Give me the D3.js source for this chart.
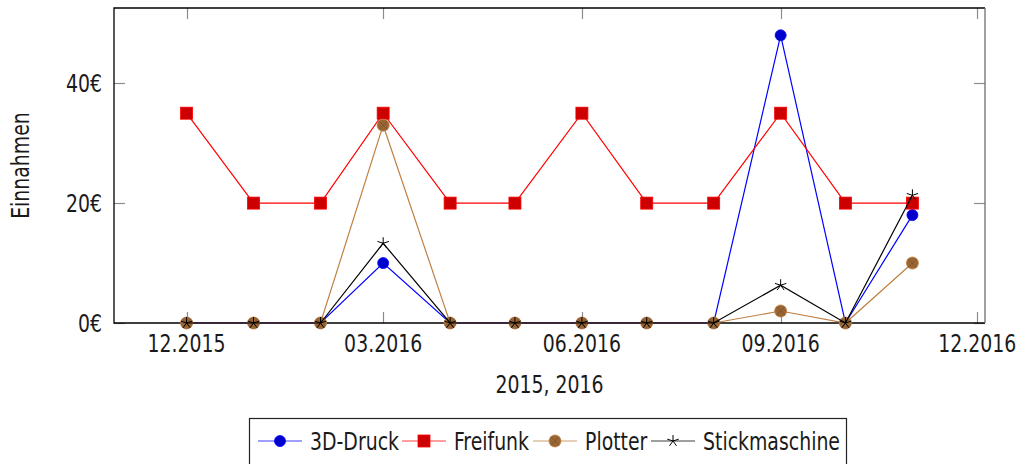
<!DOCTYPE html>
<html>
<head>
<meta charset="utf-8">
<script src="https://cdn.jsdelivr.net/npm/d3@7"></script>
<style>
  body { margin: 0; background: #fff; }
  svg text { font-family: "DejaVu Sans", sans-serif; font-stretch: condensed; fill: #1a1a1a; }
</style>
</head>
<body>
<div id="chart"></div>
<script>
"use strict"

/* DATA
 */
const months = ["2015-12", "2016-01", "2016-02", "2016-03", "2016-04", "2016-05",
                "2016-06", "2016-07", "2016-08", "2016-09", "2016-10", "2016-11"];
const druck3d = [0, 0, 0, 10, 0, 0, 0, 0, 0, 48, 0, 18];
const freifunk = [35, 20, 20, 35, 20, 20, 35, 20, 20, 35, 20, 20];
const plotter = [0, 0, 0, 33, 0, 0, 0, 0, 0, 2, 0, 10];
const stickmaschine = [0, 0, 0, 13.3, 0, 0, 0, 0, 0, 6.3, 0, 21.3];
const xTickMonths = ["2015-12", "2016-03", "2016-06", "2016-09", "2016-12"];
const yTicks = [0, 20, 40];
const xLabel = "2015, 2016";
const yLabel = "Einnahmen";

const parseMonth = d3.utcParse("%Y-%m");

const series = [
    {name: "3D-Druck", values: druck3d, line: "#0000ff", fill: "#0000cc", mark: "circle"},
    {name: "Freifunk", values: freifunk, line: "#ff0000", fill: "#cc0000", mark: "square"},
    {name: "Plotter", values: plotter, line: "#bf8040", fill: "#996633", mark: "otimes"},
    {name: "Stickmaschine", values: stickmaschine, line: "#000000", fill: "none", mark: "star"}
];

/* CHART
 */
const W = 1020, H = 464;
const box = {left: 114, right: 985, top: 8, bottom: 323};
const FONT = 25;
const SQUEEZE = 0.84;   // narrow the condensed font a bit more

const svg = d3.select("#chart").append("svg")
    .attr("width", W).attr("height", H);

function label(parent, px, py, str, anchor, rot) {
    return parent.append("text")
        .attr("transform", `translate(${px},${py})` + (rot ? ` rotate(${rot})` : "") +
              ` scale(${SQUEEZE},1)`)
        .attr("text-anchor", anchor || "start")
        .attr("font-size", FONT)
        .text(str);
}

const dates = months.map(parseMonth);
const first = dates[0], last = dates[dates.length - 1];
const pad = (last - first) * 0.1;     // enlarged x limits
const x = d3.scaleUtc()
    .domain([new Date(+first - pad), new Date(+last + pad)])
    .range([box.left, box.right]);
const y = d3.scaleLinear()
    .domain([0, 52.55])
    .range([box.bottom, box.top]);

const tickLen = 11;
const tickColor = "#8c8c8c";

// ticks (inside, mirrored)
const gTicks = svg.append("g").attr("stroke", tickColor).attr("stroke-width", 1.2);
xTickMonths.map(parseMonth).forEach((d) => {
    const px = Math.round(x(d)) + 0.5;
    gTicks.append("line").attr("x1", px).attr("x2", px)
        .attr("y1", box.bottom).attr("y2", box.bottom - tickLen);
    gTicks.append("line").attr("x1", px).attr("x2", px)
        .attr("y1", box.top).attr("y2", box.top + tickLen);
});
yTicks.forEach((v) => {
    const py = Math.round(y(v)) + 0.5;
    gTicks.append("line").attr("x1", box.left).attr("x2", box.left + tickLen)
        .attr("y1", py).attr("y2", py);
    gTicks.append("line").attr("x1", box.right).attr("x2", box.right - tickLen)
        .attr("y1", py).attr("y2", py);
});

// axis frame
const gFrame = svg.append("g").attr("fill", "none").attr("stroke-width", 1.3);
gFrame.append("path").attr("stroke", "#000")
    .attr("d", `M${box.right},${box.top}H${box.left}V${box.bottom}H${box.right}`);
gFrame.append("line").attr("stroke", "#6e6e6e")
    .attr("x1", box.right).attr("x2", box.right)
    .attr("y1", box.top).attr("y2", box.bottom);

// tick labels
const fmtMonth = d3.utcFormat("%m.%Y");
const gx = svg.append("g");
xTickMonths.map(parseMonth).forEach((d) => label(gx, x(d), 352, fmtMonth(d), "middle"));

const gy = svg.append("g");
yTicks.forEach((v) => label(gy, 102, y(v) + 9, v + "€", "end"));

label(svg, (box.left + box.right) / 2, 393, xLabel, "middle");
label(svg, 29, (box.top + box.bottom) / 2, yLabel, "middle", -90);

/* MARKERS
 */
function drawMark(g, s, cx, cy) {
    if (s.mark == "circle") {
        g.append("circle").attr("cx", cx).attr("cy", cy).attr("r", 5.5)
            .attr("fill", s.fill).attr("stroke", s.line).attr("stroke-width", 0.8);
    } else if (s.mark == "square") {
        g.append("rect").attr("x", cx - 6).attr("y", cy - 6)
            .attr("width", 12).attr("height", 12)
            .attr("fill", s.fill).attr("stroke", s.line).attr("stroke-width", 0.8);
    } else if (s.mark == "otimes") {
        const r = 6, k = r * Math.SQRT1_2;
        g.append("circle").attr("cx", cx).attr("cy", cy).attr("r", r)
            .attr("fill", s.fill).attr("stroke", s.line).attr("stroke-width", 0.8);
        g.append("path")
            .attr("d", `M${cx - k},${cy - k}L${cx + k},${cy + k}M${cx - k},${cy + k}L${cx + k},${cy - k}`)
            .attr("stroke", "#7a5230").attr("stroke-width", 0.8).attr("fill", "none");
    } else if (s.mark == "star") {
        const r = 6;
        let d = "";
        for (let i = 0; i < 5; i++) {
            const a = -Math.PI / 2 + i * 2 * Math.PI / 5;
            d += `M${cx},${cy}L${cx + r * Math.cos(a)},${cy + r * Math.sin(a)}`;
        }
        g.append("path").attr("d", d).attr("stroke", s.line)
            .attr("stroke-width", 1).attr("fill", "none");
    }
}

/* LINES
 */
const line = d3.line()
    .x((d) => x(d.date))
    .y((d) => y(d.value));

const plotArea = svg.append("g");
series.forEach((s) => {
    const pts = s.values.map((v, i) => ({date: dates[i], value: v}));
    const g = plotArea.append("g");
    g.append("path")
        .attr("d", line(pts))
        .attr("fill", "none")
        .attr("stroke", s.line)
        .attr("stroke-width", 1.2);
    pts.forEach((p) => drawMark(g, s, x(p.date), y(p.value)));
});

/* LEGEND
 */
const legend = svg.append("g");
legend.append("rect")
    .attr("x", 249.5).attr("y", 418.5)
    .attr("width", 597).attr("height", 60)
    .attr("fill", "#fff").attr("stroke", "#222").attr("stroke-width", 1.2);

const legendX = [258, 402, 533, 651];
const legendY = 441;
series.forEach((s, i) => {
    const g = legend.append("g");
    g.append("line")
        .attr("x1", legendX[i]).attr("x2", legendX[i] + 44)
        .attr("y1", legendY).attr("y2", legendY)
        .attr("stroke", s.line).attr("stroke-width", 1.2)
        .attr("stroke-opacity", 0.75);
    drawMark(g, s, legendX[i] + 22, legendY);
    label(g, legendX[i] + 52, legendY + 9, s.name, "start");
});
</script>
</body>
</html>
